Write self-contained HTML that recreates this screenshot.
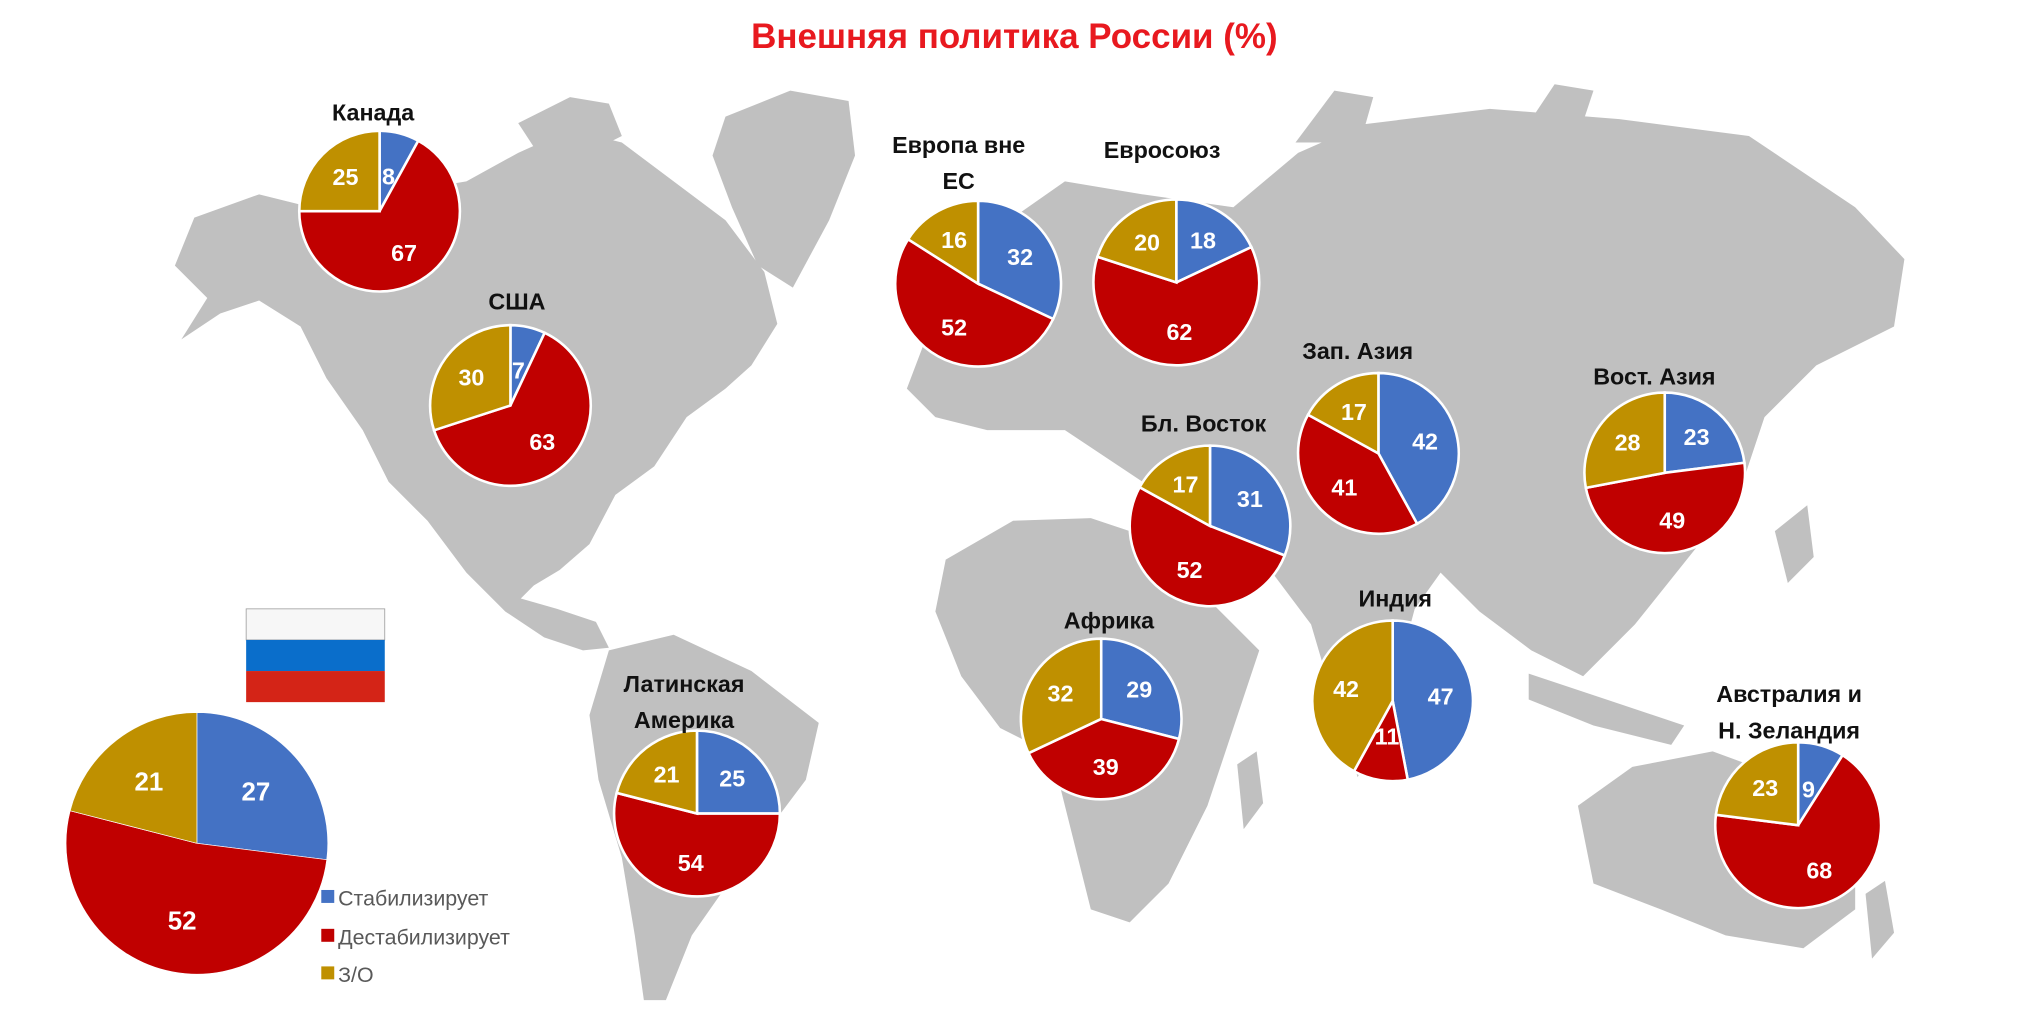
<!DOCTYPE html>
<html><head><meta charset="utf-8">
<style>
html,body{margin:0;padding:0;background:#fff;}
svg{display:block;}
text{font-family:"Liberation Sans","DejaVu Sans",sans-serif;}
</style></head>
<body>
<svg id="s" width="2021" height="1019" viewBox="0 0 1560 786.6" preserveAspectRatio="none" xmlns="http://www.w3.org/2000/svg">
<g fill="#c0c0c0">
<polygon points="135,205 150,168 200,150 240,160 300,150 360,140 400,118 440,100 480,110 520,140 560,170 590,210 600,250 580,282 560,300 530,322 505,360 475,382 455,420 432,440 412,452 402,462 430,470 460,480 470,500 450,502 420,492 390,472 360,442 330,402 300,372 280,332 252,292 232,252 200,232 170,242 140,262 160,230"/>
<polygon points="400,95 440,75 470,80 480,105 450,120 415,118"/>
<polygon points="560,90 610,70 655,78 660,120 640,170 612,222 585,205 565,160 550,120"/>
<polygon points="470,502 520,490 580,518 632,558 622,602 592,642 562,682 534,722 514,772 497,772 490,722 480,662 462,602 455,552"/>
<polygon points="700,300 722,242 762,182 822,140 882,150 952,160 1002,118 1052,96 1150,84 1250,92 1350,105 1432,160 1470,200 1462,252 1402,282 1362,322 1342,382 1302,432 1262,482 1222,522 1182,502 1142,472 1112,442 1092,470 1072,545 1048,600 1035,560 1012,482 982,442 962,432 942,412 882,372 822,332 762,332 722,322"/>
<polygon points="1000,110 1030,70 1060,75 1050,110"/>
<polygon points="1180,95 1200,65 1230,70 1220,100"/>
<polygon points="730,432 782,402 842,400 902,420 932,462 972,502 952,562 932,622 902,682 872,712 842,702 822,622 812,582 772,562 742,522 722,472"/>
<polygon points="955,590 970,580 975,620 960,640"/>
<polygon points="1218,622 1260,592 1322,580 1382,602 1432,642 1432,702 1392,732 1332,722 1282,702 1230,682"/>
<polygon points="1440,690 1455,680 1462,720 1445,740"/>
<polygon points="1180,520 1240,540 1300,560 1290,575 1230,560 1180,540"/>
<polygon points="1370,410 1395,390 1400,430 1380,450"/>
</g>
<text x="783" y="37" text-anchor="middle" font-size="27" font-weight="bold" fill="#e8191f">Внешняя политика России (%)</text>
<rect x="190" y="470" width="107" height="24" fill="#f7f7f7" stroke="#999" stroke-width="0.6"/>
<rect x="190" y="494" width="107" height="24" fill="#0a6ecb"/>
<rect x="190" y="518" width="107" height="24" fill="#d42417"/>
<g id="pies"></g>
<g font-size="16.5" fill="#595959">
<rect x="248" y="687" width="10" height="10" fill="#4472c4"/><text x="261" y="699">Стабилизирует</text>
<rect x="248" y="717" width="10" height="10" fill="#c00000"/><text x="261" y="729">Дестабилизирует</text>
<rect x="248" y="746" width="10" height="10" fill="#bf9000"/><text x="261" y="758">З/О</text>
</g>
</svg>
<script>
var C=["#4472c4","#c00000","#bf9000"];
var P=[
 [293,163,62,[8,67,25],["Канада"],86,2,288],
 [394,313,62,[7,63,30],["США"],232,2,399],
 [755,219,64,[32,52,16],["Европа вне","ЕС"],111,2,740],
 [908,218,64,[18,62,20],["Евросоюз"],115,2,897],
 [1064,350,62,[42,41,17],["Зап. Азия"],270,2,1048],
 [934,406,62,[31,52,17],["Бл. Восток"],326,2,929],
 [1285,365,62,[23,49,28],["Вост. Азия"],290,2,1277],
 [850,555,62,[29,39,32],["Африка"],478,2,856],
 [1075,541,62,[47,11,42],["Индия"],461,2,1077],
 [538,628,64,[25,54,21],["Латинская","Америка"],527,2,528],
 [1388,637,64,[9,68,23],["Австралия и","Н. Зеландия"],535,2,1381],
 [152,651,101,[27,52,21],[],0,0.5,0]
];
var out="";
P.forEach(function(p){
 var cx=p[0],cy=p[1],r=p[2],v=p[3],tot=v[0]+v[1]+v[2],a=0;
 for(var i=0;i<3;i++){
  var a0=a/tot*2*Math.PI,a1=(a+v[i])/tot*2*Math.PI;a+=v[i];
  var x0=cx+r*Math.sin(a0),y0=cy-r*Math.cos(a0),x1=cx+r*Math.sin(a1),y1=cy-r*Math.cos(a1);
  var lg=(a1-a0)>Math.PI?1:0;
  out+='<path d="M'+cx+','+cy+' L'+x0.toFixed(2)+','+y0.toFixed(2)+' A'+r+','+r+' 0 '+lg+' 1 '+x1.toFixed(2)+','+y1.toFixed(2)+' Z" fill="'+C[i]+'" stroke="#fff" stroke-width="'+p[6]+'"/>';
 }
 a=0;
 for(var i=0;i<3;i++){
  var am=(a+v[i]/2)/tot*2*Math.PI;a+=v[i];
  var f=v[i]<12?0.45:0.6;
  var tx=cx+r*f*Math.sin(am),ty=cy-r*f*Math.cos(am);
  var fs=r>80?20:18;
  out+='<text x="'+tx.toFixed(1)+'" y="'+(ty+fs*0.35).toFixed(1)+'" text-anchor="middle" font-size="'+fs+'" font-weight="bold" fill="#fff">'+v[i]+'</text>';
 }
 p[4].forEach(function(t,k){
  out+='<text x="'+p[7]+'" y="'+(p[5]+k*28+7)+'" text-anchor="middle" font-size="18" font-weight="bold" fill="#111">'+t+'</text>';
 });
});
document.getElementById("pies").innerHTML=out;
</script>
</body></html>
